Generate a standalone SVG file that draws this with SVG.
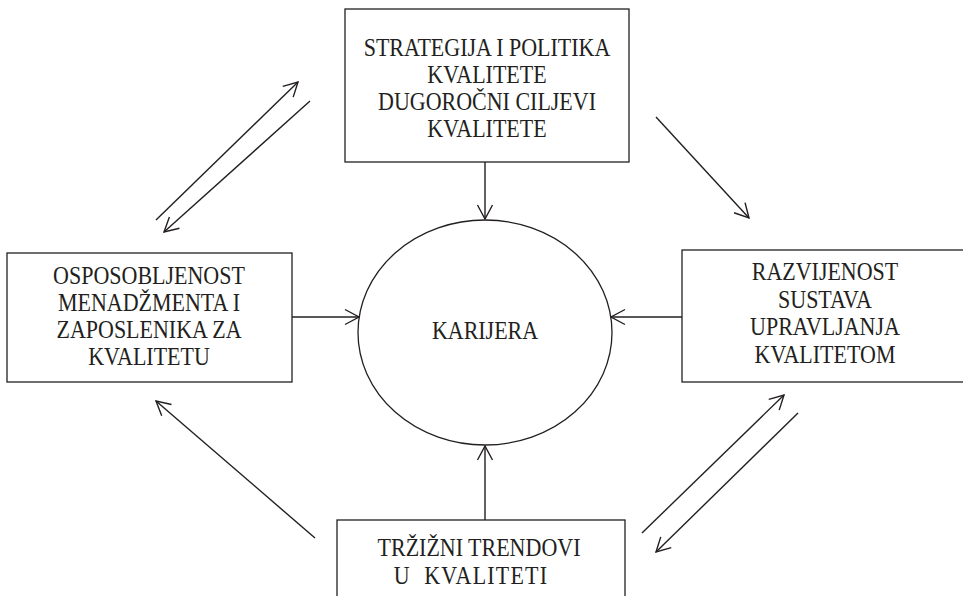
<svg xmlns="http://www.w3.org/2000/svg" width="963" height="596" viewBox="0 0 963 596">
<style>
.box{fill:#fff;stroke:#231f20;stroke-width:1.3}
.lbl{font-family:"Liberation Serif","Times New Roman",serif;font-size:22px;fill:#231f20;text-anchor:middle}
.con{stroke:#231f20;stroke-width:1.4;fill:none;marker-end:url(#arr)}
</style>
<defs>
<marker id="arr" markerUnits="userSpaceOnUse" viewBox="-16 -9 18 18" refX="0" refY="0" markerWidth="18" markerHeight="18" orient="auto" overflow="visible">
<path d="M-14,-7.5 L0,0 L-14,7.5" fill="none" stroke="#231f20" stroke-width="1.4"/>
</marker>
</defs>
<rect width="963" height="596" fill="#fff"/>
<g id="connectors">
<line class="con" x1="156" y1="220" x2="298" y2="82"/>
<line class="con" x1="310" y1="101" x2="164" y2="232"/>
<line class="con" x1="656" y1="117" x2="749" y2="218"/>
<line class="con" x1="642" y1="533" x2="784" y2="395"/>
<line class="con" x1="798" y1="413" x2="656" y2="552"/>
<line class="con" x1="315" y1="538" x2="156" y2="401"/>
<line class="con" x1="485" y1="162" x2="485" y2="219"/>
<line class="con" x1="485" y1="520" x2="485" y2="446"/>
<line class="con" x1="292" y1="317" x2="359" y2="317"/>
<line class="con" x1="682" y1="317" x2="611" y2="317"/>
</g>
<g id="node-strategija">
<rect class="box" x="345" y="9" width="284" height="153"/>
<text class="lbl" transform="translate(487,56) scale(1,1.1)">STRATEGIJA I POLITIKA</text>
<text class="lbl" transform="translate(487,83) scale(1,1.1)">KVALITETE</text>
<text class="lbl" transform="translate(487,110) scale(1,1.1)">DUGOROČNI CILJEVI</text>
<text class="lbl" transform="translate(487,137) scale(1,1.1)">KVALITETE</text>
</g>
<g id="node-osposobljenost">
<rect class="box" x="7" y="253" width="285" height="129"/>
<text class="lbl" transform="translate(149,284) scale(1,1.1)">OSPOSOBLJENOST</text>
<text class="lbl" transform="translate(149,311) scale(1,1.1)">MENADŽMENTA I</text>
<text class="lbl" transform="translate(149,338) scale(1,1.1)">ZAPOSLENIKA ZA</text>
<text class="lbl" transform="translate(149,365) scale(1,1.1)">KVALITETU</text>
</g>
<g id="node-karijera">
<ellipse class="box" cx="485" cy="332.5" rx="127" ry="112.5"/>
<text class="lbl" transform="translate(485,339) scale(1,1.1)">KARIJERA</text>
</g>
<g id="node-razvijenost">
<rect class="box" x="682" y="250" width="290" height="132"/>
<text class="lbl" transform="translate(825,280) scale(1,1.1)">RAZVIJENOST</text>
<text class="lbl" transform="translate(825,308) scale(1,1.1)">SUSTAVA</text>
<text class="lbl" transform="translate(825,335) scale(1,1.1)">UPRAVLJANJA</text>
<text class="lbl" transform="translate(825,363) scale(1,1.1)">KVALITETOM</text>
</g>
<g id="node-trendovi">
<rect class="box" x="337" y="520" width="288" height="90"/>
<text class="lbl" transform="translate(479,556) scale(1,1.1)">TRŽIŽNI TRENDOVI</text>
<text class="lbl" transform="translate(471,584) scale(1,1.1)" letter-spacing="1.2" xml:space="preserve">U  KVALITETI</text>
</g>
</svg>
